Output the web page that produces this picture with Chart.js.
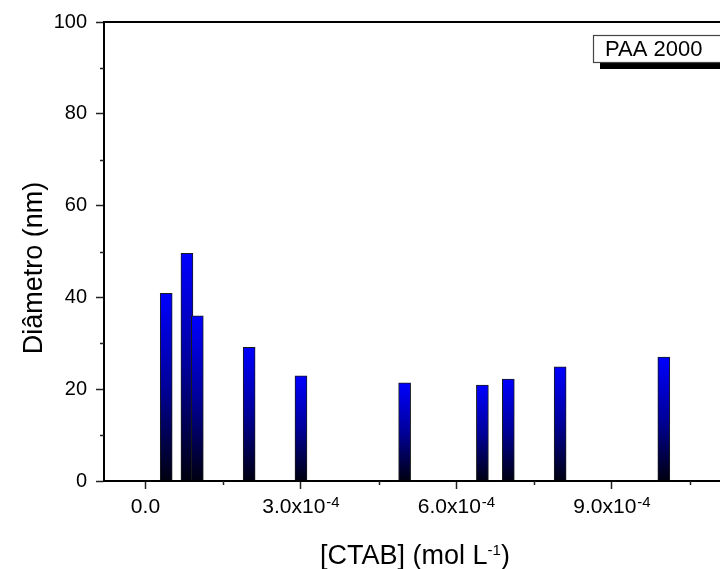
<!DOCTYPE html>
<html>
<head>
<meta charset="utf-8">
<script src="https://cdn.jsdelivr.net/npm/chart.js@4.4.1/dist/chart.umd.min.js"></script>
<style>
  html, body { margin: 0; padding: 0; background: #fff; overflow: hidden; }
  #wrap { width: 740px; height: 569px; }
</style>
</head>
<body>
<div id="wrap"><canvas id="c" width="740" height="569"></canvas></div>
<script>
// Particle diameter vs CTAB concentration (PAA 2000)
const seriesLabel = 'PAA 2000';
const ctabConc = [0.4e-4, 0.8e-4, 1.0e-4, 2.0e-4, 3.0e-4, 5.0e-4, 6.5e-4, 7.0e-4, 8.0e-4, 10.0e-4];
const diameter = [40.9, 49.6, 36.0, 29.1, 22.9, 21.4, 20.9, 22.2, 24.9, 27.0];

const xMajorTicks = [0, 3e-4, 6e-4, 9e-4];
const xTickMantissa = ['0.0', '3.0x10', '6.0x10', '9.0x10'];
const xTickExponent = ['', '-4', '-4', '-4'];
const xMinorTicks = [1.5e-4, 4.5e-4, 7.5e-4, 10.5e-4];
const yMinorTicks = [10, 30, 50, 70, 90];

const xTitle = ['[CTAB] (mol L', '-1', ')'];
const yTitle = 'Diâmetro (nm)';

const FONT = "'Liberation Sans', Arial, Helvetica, sans-serif";
Chart.defaults.font.family = FONT;
Chart.defaults.color = '#000';

// blue-to-black fill running down each bar
function barGradient(ctx) {
  if (ctx.type !== 'data') return '#0000ff';
  const chart = ctx.chart;
  if (!chart.chartArea) return '#0000ff';
  const y = chart.scales.y;
  const top = y.getPixelForValue(ctx.raw.y);
  const bottom = y.getPixelForValue(0);
  if (!isFinite(top) || !isFinite(bottom) || bottom - top < 1) return '#0000ff';
  const g = chart.ctx.createLinearGradient(0, top, 0, bottom);
  g.addColorStop(0, '#0000ff');
  g.addColorStop(0.5, '#00009a');
  g.addColorStop(1, '#000010');
  return g;
}

const decorations = {
  id: 'decorations',
  afterDatasetsDraw(chart) {
    const { ctx, chartArea, scales } = chart;
    const x = scales.x, y = scales.y;
    ctx.save();
    // frame line along the top
    ctx.strokeStyle = '#000';
    ctx.lineWidth = 2;
    ctx.beginPath();
    ctx.moveTo(chartArea.left - 1, chartArea.top);
    ctx.lineTo(chartArea.right + 20, chartArea.top);
    ctx.stroke();

    // minor ticks
    ctx.lineWidth = 1.5;
    ctx.strokeStyle = '#222';
    ctx.beginPath();
    yMinorTicks.forEach(v => {
      const py = Math.round(y.getPixelForValue(v)) + 0.5;
      ctx.moveTo(chartArea.left - 4, py);
      ctx.lineTo(chartArea.left, py);
    });
    xMinorTicks.forEach(v => {
      const px = Math.round(x.getPixelForValue(v)) + 0.5;
      ctx.moveTo(px, chartArea.bottom);
      ctx.lineTo(px, chartArea.bottom + 4);
    });
    ctx.stroke();

    // x tick labels with superscript exponent
    ctx.fillStyle = '#000';
    ctx.textBaseline = 'alphabetic';
    ctx.textAlign = 'left';
    xMajorTicks.forEach((v, i) => {
      const px = x.getPixelForValue(v);
      ctx.font = '21px ' + FONT;
      const w1 = ctx.measureText(xTickMantissa[i]).width;
      ctx.font = '15px ' + FONT;
      const w2 = xTickExponent[i] ? ctx.measureText(xTickExponent[i]).width + 1 : 0;
      const start = px - (w1 + w2) / 2;
      ctx.font = '21px ' + FONT;
      ctx.fillText(xTickMantissa[i], start, 513);
      if (xTickExponent[i]) {
        ctx.font = '15px ' + FONT;
        ctx.fillText(xTickExponent[i], start + w1 + 1, 507);
      }
    });

    // x axis title
    ctx.font = '27px ' + FONT;
    const a = ctx.measureText(xTitle[0]).width;
    const c = ctx.measureText(xTitle[2]).width;
    ctx.font = '15px ' + FONT;
    const b = ctx.measureText(xTitle[1]).width;
    const cx = (chartArea.left + chartArea.right) / 2;
    let tx = cx - (a + b + c) / 2;
    ctx.font = '27px ' + FONT;
    ctx.fillText(xTitle[0], tx, 564);
    ctx.font = '15px ' + FONT;
    ctx.fillText(xTitle[1], tx + a, 555);
    ctx.font = '27px ' + FONT;
    ctx.fillText(xTitle[2], tx + a + b, 564);

    // y axis title
    ctx.save();
    ctx.translate(42, 268);
    ctx.rotate(-Math.PI / 2);
    ctx.textAlign = 'center';
    ctx.font = '27px ' + FONT;
    ctx.fillText(yTitle, 0, 0);
    ctx.restore();

    // legend box with drop shadow
    const bx = 593, by = 35, bw = 150, bh = 27, sh = 7;
    ctx.fillStyle = '#000';
    ctx.fillRect(bx + sh, by + sh, bw, bh);
    ctx.fillStyle = '#fff';
    ctx.fillRect(bx, by, bw, bh);
    ctx.strokeStyle = '#444';
    ctx.lineWidth = 1.2;
    ctx.strokeRect(bx + 0.5, by + 0.5, bw, bh);
    ctx.fillStyle = '#000';
    ctx.font = '22px ' + FONT;
    ctx.textAlign = 'left';
    ctx.fillText(chart.data.datasets[0].label, 605, 56);
    ctx.restore();
  }
};

new Chart(document.getElementById('c'), {
  type: 'bar',
  data: {
    datasets: [{
      label: seriesLabel,
      data: ctabConc.map((v, i) => ({ x: v, y: diameter[i] })),
      backgroundColor: barGradient,
      borderColor: '#1a1a1a',
      borderWidth: 1,
      borderSkipped: 'start',
      barThickness: 12
    }]
  },
  options: {
    responsive: false,
    animation: false,
    devicePixelRatio: 1,
    layout: { padding: { left: 0, top: 22, right: 14, bottom: 0 } },
    plugins: { legend: { display: false }, tooltip: { enabled: false } },
    scales: {
      x: {
        type: 'linear',
        min: -0.8e-4,
        max: 11.2e-4,
        offset: false,
        afterBuildTicks: s => { s.ticks = xMajorTicks.map(v => ({ value: v })); },
        afterFit: s => { s.height = 88; },
        ticks: { display: false },
        grid: { offset: false, drawOnChartArea: false, drawTicks: true, tickLength: 8, tickWidth: 1.5, tickColor: '#222' },
        border: { display: true, color: '#000', width: 2 }
      },
      y: {
        type: 'linear',
        min: 0,
        max: 100,
        afterFit: s => { s.width = 104; },
        ticks: { stepSize: 20, padding: 9, color: '#000', font: { size: 20, family: FONT } },
        grid: { drawOnChartArea: false, drawTicks: true, tickLength: 8, tickWidth: 1.5, tickColor: '#222' },
        border: { display: true, color: '#000', width: 2 }
      }
    }
  },
  plugins: [decorations]
});
</script>
</body>
</html>
